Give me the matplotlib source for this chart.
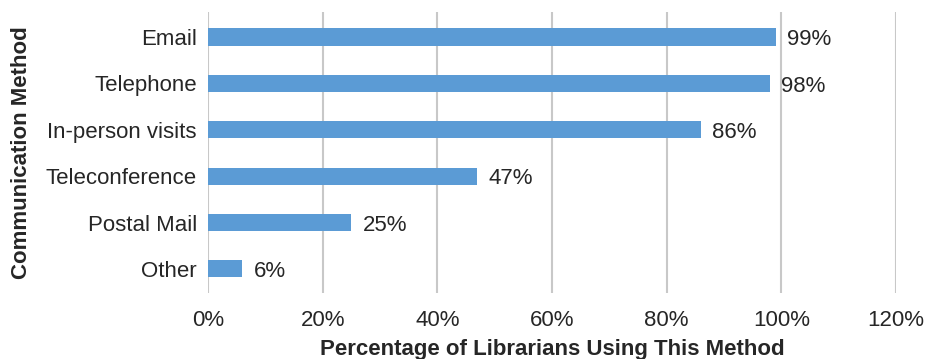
import matplotlib.pyplot as plt
from matplotlib.ticker import PercentFormatter

plt.rcParams['font.family'] = ['Liberation Sans', 'DejaVu Sans']

methods = ['Email', 'Telephone', 'In-person visits', 'Teleconference', 'Postal Mail', 'Other']
percent = [99, 98, 86, 47, 25, 6]

fig = plt.figure(figsize=(9.26, 3.59), dpi=100)
ax = fig.add_axes([0.2246, 0.1838, 0.743, 0.783])

# top category first
ypos = list(range(len(methods)))[::-1]
ax.barh(ypos, percent, height=0.37, color='#5b9bd5', zorder=3)
for y, v in zip(ypos, percent):
    ax.annotate(f'{v}%', (v, y), xytext=(8, -2), textcoords='offset points',
                va='center', ha='left', fontsize=16, color='#262626')

ax.set_xlim(0, 120)
ax.set_ylim(-0.52, 5.54)
ax.set_xticks(range(0, 121, 20))
ax.xaxis.set_major_formatter(PercentFormatter(decimals=0))
ax.set_yticks(ypos)
ax.set_yticklabels(methods)
ax.grid(axis='x', color='#c8c8c8', linewidth=1.5, zorder=0)
for s in ['top', 'right', 'bottom', 'left']:
    ax.spines[s].set_visible(False)
ax.tick_params(axis='both', length=0, labelsize=16, colors='#262626')
ax.tick_params(axis='x', pad=12)
ax.tick_params(axis='y', pad=8)
ax.set_xlabel('Percentage of Librarians Using This Method', fontsize=16,
              fontweight='bold', color='#262626', labelpad=6)
ax.set_ylabel('Communication Method', fontsize=16, fontweight='bold',
              color='#262626', labelpad=10)

fig.savefig('out.png', dpi=100)
